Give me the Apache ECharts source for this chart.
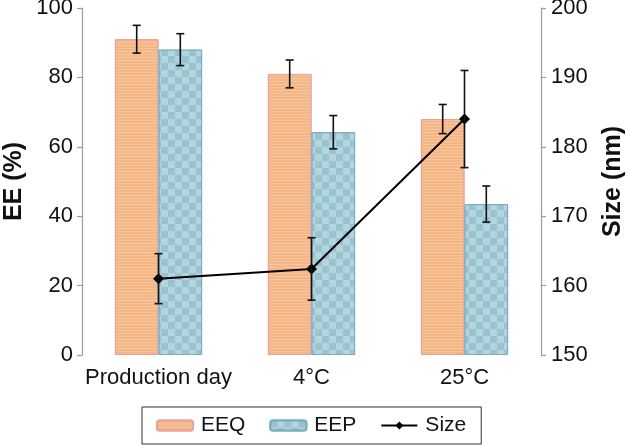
<!DOCTYPE html>
<html>
<head>
<meta charset="utf-8">
<script src="https://cdn.jsdelivr.net/npm/echarts@6/dist/echarts.min.js"></script>
<style>
html,body{margin:0;padding:0;background:#fff;}
#c{width:630px;height:446px;}
</style>
</head>
<body>
<div id="c"></div>
<script>
var categories = ['Production day', '4\u00B0C', '25\u00B0C'];
var eeqValues = [91, 81, 68];
var eeqErrors = [4, 4, 4.2];
var eepValues = [88, 64.2, 43.5];
var eepErrors = [4.6, 4.8, 5.2];
var sizeValues = [161, 162.4, 184];
var sizeErrors = [3.6, 4.5, 7];
var leftTicks = [0, 20, 40, 60, 80, 100];
var rightTicks = [150, 160, 170, 180, 190, 200];

var FONT = 'Liberation Sans, Arial, sans-serif';
var GAP = 0.43;

function errData(vals, errs) {
  return vals.map(function (v, i) { return [i, v - errs[i], v + errs[i]]; });
}

function errRender(side) {
  return function (params, api) {
    var idx = api.value(0);
    var lo = api.coord([idx, api.value(1)]);
    var hi = api.coord([idx, api.value(2)]);
    var band = api.size([1, 0])[0];
    var barW = band * (1 - GAP) / 2;
    var x = lo[0] + side * barW / 2;
    var cap = 4;
    var style = { stroke: '#111', lineWidth: 1.6 };
    return {
      type: 'group',
      children: [
        { type: 'line', shape: { x1: x, y1: lo[1], x2: x, y2: hi[1] }, style: style },
        { type: 'line', shape: { x1: x - cap, y1: lo[1], x2: x + cap, y2: lo[1] }, style: style },
        { type: 'line', shape: { x1: x - cap, y1: hi[1], x2: x + cap, y2: hi[1] }, style: style }
      ]
    };
  };
}

var chart = echarts.init(document.getElementById('c'), null, { renderer: 'canvas' });
chart.setOption({
  animation: false,
  backgroundColor: '#fff',
  grid: { left: 82, right: 89, top: 8, bottom: 91, containLabel: false, outerBoundsMode: 'none' },
  legend: {
    left: 142, top: 407,
    padding: [8, 15, 8, 14],
    itemGap: 24,
    itemWidth: 36, itemHeight: 10,
    borderColor: '#333', borderWidth: 1, borderRadius: 0,
    textStyle: { fontFamily: FONT, fontSize: 21, color: '#111', padding: [0, 0, 0, 3] },
    data: ['EEQ', 'EEP', 'Size']
  },
  xAxis: {
    type: 'category',
    data: categories,
    axisLine: { show: false },
    axisTick: { show: false },
    axisLabel: { fontFamily: FONT, fontSize: 22, color: '#111', margin: 12, interval: 0 }
  },
  yAxis: [
    {
      type: 'value', min: 0, max: 100, interval: 20,
      name: 'EE (%)', nameLocation: 'middle', nameGap: 55, nameRotate: 90, nameMoveOverlap: false,
      nameTextStyle: { fontFamily: FONT, fontSize: 25, fontWeight: 'bold', color: '#111' },
      axisLine: { show: true, lineStyle: { color: '#9a9a9a', width: 1.2 } },
      axisTick: { show: true, length: 5, lineStyle: { color: '#9a9a9a', width: 1.2 } },
      axisLabel: { fontFamily: FONT, fontSize: 22, color: '#111', margin: 9,
        formatter: function (v) { return leftTicks.indexOf(v) >= 0 ? String(v) : ''; } },
      splitLine: { show: false }
    },
    {
      type: 'value', min: 150, max: 200, interval: 10,
      name: 'Size (nm)', nameLocation: 'middle', nameGap: 60, nameRotate: 90,
      nameTextStyle: { fontFamily: FONT, fontSize: 25, fontWeight: 'bold', color: '#111' },
      axisLine: { show: true, lineStyle: { color: '#9a9a9a', width: 1.2 } },
      axisTick: { show: true, length: 5, lineStyle: { color: '#9a9a9a', width: 1.2 } },
      axisLabel: { fontFamily: FONT, fontSize: 22, color: '#111', margin: 10,
        formatter: function (v) { return rightTicks.indexOf(v) >= 0 ? String(v) : ''; } },
      splitLine: { show: false }
    }
  ],
  series: [
    {
      name: 'EEQ', type: 'bar', data: eeqValues, barGap: '0%', barCategoryGap: (GAP * 100) + '%',
      itemStyle: {
        color: '#F5B686', borderColor: '#E8A39A', borderWidth: 1,
        decal: { symbol: 'rect', symbolSize: 1, dashArrayX: [1, 0], dashArrayY: [1, 2], color: 'rgba(255,255,255,0.2)' }
      }
    },
    {
      name: 'EEP', type: 'bar', data: eepValues,
      itemStyle: {
        color: '#98C4D1', borderColor: '#78AEC0', borderWidth: 1,
        decal: { symbol: 'rect', symbolSize: 1, dashArrayX: [[7, 7], [0, 7, 7, 0]], dashArrayY: [7, 0], color: 'rgba(255,255,255,0.28)' }
      }
    },
    {
      name: 'Size', type: 'line', yAxisIndex: 1, data: sizeValues,
      symbol: 'diamond', symbolSize: 11,
      lineStyle: { color: '#000', width: 2 },
      itemStyle: { color: '#000' },
      z: 5
    },
    {
      type: 'custom', renderItem: errRender(-1), data: errData(eeqValues, eeqErrors),
      encode: { x: 0, y: [1, 2] }, z: 4, silent: true
    },
    {
      type: 'custom', renderItem: errRender(1), data: errData(eepValues, eepErrors),
      encode: { x: 0, y: [1, 2] }, z: 4, silent: true
    },
    {
      type: 'custom', yAxisIndex: 1, renderItem: errRender(0), data: errData(sizeValues, sizeErrors),
      encode: { x: 0, y: [1, 2] }, z: 6, silent: true
    }
  ]
});
</script>
</body>
</html>
